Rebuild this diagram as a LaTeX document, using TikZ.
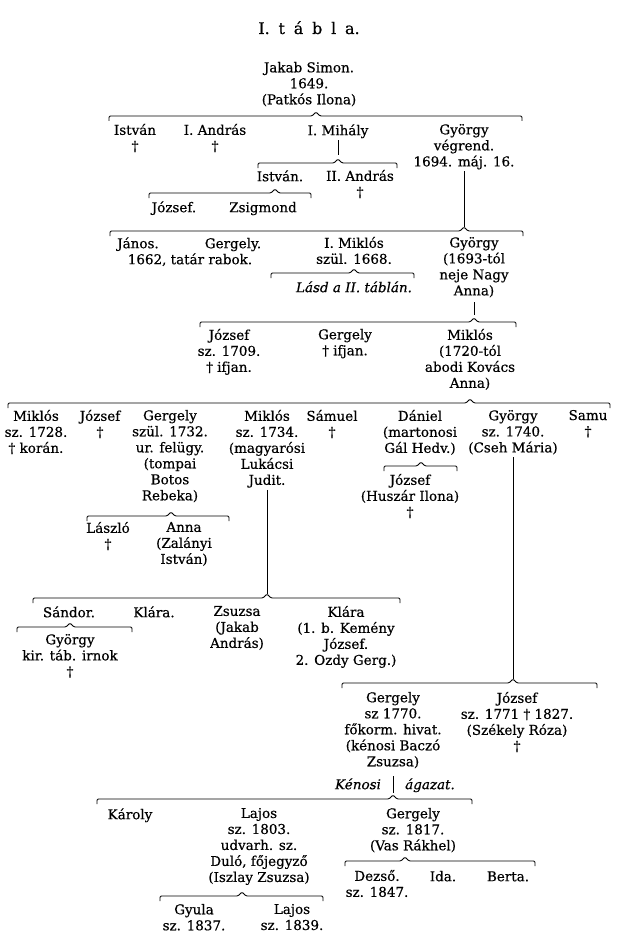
\documentclass[tikz,border=0pt]{standalone}
\usepackage{fontspec}
\setmainfont{DejaVu Serif}[FakeBold=0.5]
\newcommand\pf{\fontsize{13.5}{16}\selectfont}
\newcommand\famline[5]{%
  \coordinate (#1) at (#4,#2-4);
  \draw[brk] (#3,#2+5) -- (#3,#2) -- (#4-4,#2) -- (#1) -- (#4+4,#2) -- (#5,#2) -- (#5,#2+5);}
\tikzset{
  pers/.style={anchor=north, yshift=11.2pt, align=center, inner sep=0pt, font=\pf,
    execute at begin node=\strut, execute at end node=\strut},
  ttl/.style={anchor=base, inner sep=0pt, font=\fontsize{16}{18}\selectfont},
  brk/.style={line width=0.85pt, rounded corners=1.2pt},
  vl/.style={line width=0.85pt}
}
\begin{document}
\begin{tikzpicture}[x=1pt,y=-1pt]
\useasboundingbox (0,0) rectangle (618,947);
\fill[white] (0,0) rectangle (618,947);

\node[ttl] (t) at (309,34) {\spaceskip=0.55em\relax I. t á b l a.};
\node[pers] (jakab) at (309,73) {Jakab Simon.\\1649.\\(Patkós Ilona)};
\famline{b1}{116}{109}{316}{522}

\node[pers] (istvan1) at (135,135) {István\\†};
\node[pers] (andras1) at (215,135) {I. András\\†};
\node[pers] (mihaly) at (338,135) {I. Mihály};
\node[pers] (gyorgy1) at (464,135) {György\\végrend.\\1694. máj. 16.};
\famline{b2}{163}{258}{338}{397}
\draw[vl, shorten >=4pt] (mihaly.south) -- (b2);
\node[pers] (istvan2) at (280,181) {István.};
\node[pers] (andras2) at (360,181) {II. András\\†};
\famline{b3}{193}{149}{275}{311}
\node[pers] (jozsef1) at (174,212) {József.};
\node[pers] (zsigmond) at (263,212) {Zsigmond};

\famline{b4}{231}{110}{464}{523}
\draw[vl] (gyorgy1.south) -- (b4);
\node[pers] (janos) at (138,248) {János.};
\node[pers] (gergely1) at (233,248) {Gergely.};
\node[pers] (rabok) at (190,264) {1662, tatár rabok.};
\node[pers] (miklos1) at (354,248) {I. Miklós\\szül. 1668.};
\famline{b5}{273}{271}{354}{414}
\node[pers, font=\pf\itshape] (lasd) at (354,292) {Lásd a II. táblán.};
\node[pers] (gyorgy2) at (474,248) {György\\(1693-tól\\neje Nagy\\Anna)};

\famline{b6}{322}{200}{474}{516}
\draw[vl, shorten <=2pt, shorten >=3pt] (gyorgy2.south) -- (b6);
\node[pers] (jozsef2) at (229,340) {József\\sz. 1709.\\† ifjan.};
\node[pers] (gergely2) at (345,340) {Gergely\\† ifjan.};
\node[pers] (miklos2) at (470,340) {Miklós\\(1720-tól\\abodi Kovács\\Anna)};

\famline{b7}{403}{8}{470}{610}
\node[pers] (miklos3) at (36,421) {Miklós\\sz. 1728.\\† korán.};
\node[pers] (jozsef3) at (100,421) {József\\†};
\node[pers] (gergely3) at (170,421) {Gergely\\szül. 1732.\\ur. felügy.\\(tompai\\Botos\\Rebeka)};
\node[pers] (miklos4) at (267,421) {Miklós\\sz. 1734.\\(magyarósi\\Lukácsi\\Judit.};
\node[pers] (samuel) at (332,421) {Sámuel\\†};
\node[pers] (daniel) at (420,421) {Dániel\\(martonosi\\Gál Hedv.)};
\node[pers] (gyorgy3) at (513,421) {György\\sz. 1740.\\(Cseh Mária)};
\node[pers] (samu) at (588,421) {Samu\\†};

\famline{b8}{466}{384}{421}{457}
\node[pers] (jozsef4) at (410,485) {József\\(Huszár Ilona)\\†};
\famline{b9}{516}{87}{171}{229}
\node[pers] (laszlo) at (108,533) {László\\†};
\node[pers] (anna) at (184,533) {Anna\\(Zalányi\\István)};

\famline{b10}{598}{33}{267}{400}
\draw[vl] (miklos4.south) -- (b10);
\node[pers] (sandor) at (69,617) {Sándor.};
\node[pers] (klara1) at (154,617) {Klára.};
\node[pers] (zsuzsa) at (237,617) {Zsuzsa\\(Jakab\\András)};
\node[pers] (klara2) at (346,617) {Klára\\(1. b. Kemény\\József.\\2. Ozdy Gerg.)};
\famline{b11}{627}{17}{70}{132}
\node[pers] (gyorgy4) at (70,645) {György\\kir. táb. irnok\\†};

\famline{b12}{683}{342}{513}{597}
\draw[vl] (gyorgy3.south) -- (b12);
\node[pers] (gergely4) at (393,703) {Gergely\\sz 1770.\\főkorm. hivat.\\(kénosi Baczó\\Zsuzsa)};
\node[pers] (jozsef5) at (517,703) {József\\sz. 1771 † 1827.\\(Székely Róza)\\†};
\node[pers, font=\pf\itshape] (kenosi) at (358,789) {Kénosi};
\node[pers, font=\pf\itshape] (agazat) at (430,789) {ágazat.};
\famline{b13}{799}{97}{393}{472}
\draw[vl, shorten <=5pt, shorten >=2pt] (gergely4.south) -- (b13);

\node[pers] (karoly) at (130,819) {Károly};
\node[pers] (lajos1) at (259,819) {Lajos\\sz. 1803.\\udvarh. sz.\\Duló, főjegyző\\(Iszlay Zsuzsa)};
\node[pers] (gergely5) at (413,819) {Gergely\\sz. 1817.\\(Vas Rákhel)};
\famline{b14}{861}{345}{405}{535}
\node[pers] (dezso) at (377,881) {Dezső.\\sz. 1847.};
\node[pers] (ida) at (443,881) {Ida.};
\node[pers] (berta) at (508,881) {Berta.};
\famline{b15}{896}{160}{242}{323}
\node[pers] (gyula) at (194,915) {Gyula\\sz. 1837.};
\node[pers] (lajos2) at (292,915) {Lajos\\sz. 1839.};
\end{tikzpicture}
\end{document}
